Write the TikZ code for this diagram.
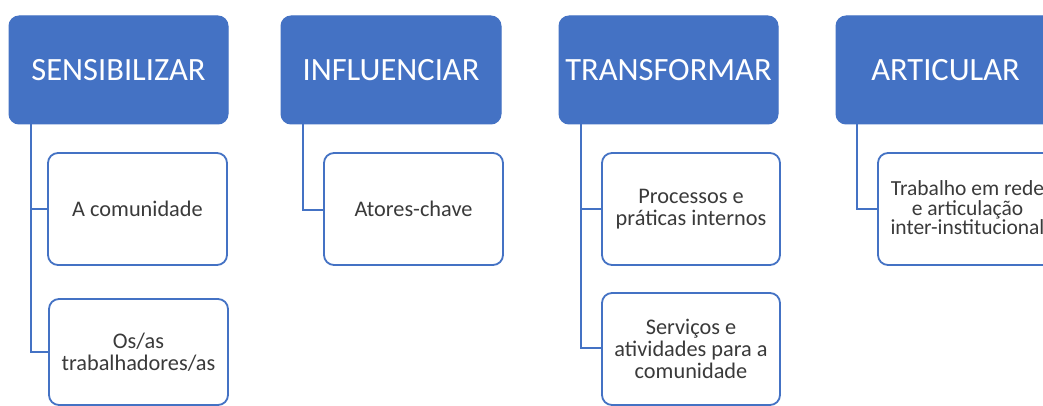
\documentclass[tikz,border=0pt]{standalone}
\usepackage{fontspec}
\setmainfont{Carlito}
\definecolor{ofblue}{HTML}{4472C4}
\definecolor{txtgray}{HTML}{3A3A3A}
\begin{document}
\begin{tikzpicture}[x=1pt,y=-1pt,
  parentbox/.style={fill=ofblue,draw=ofblue,rounded corners=10pt,line width=1pt},
  childbox/.style={fill=white,draw=ofblue,rounded corners=10pt,line width=1.8pt},
  ptext/.style={text=white,font=\fontsize{32.5}{34}\selectfont},
  ctext/.style={text=txtgray,font=\fontsize{22.3}{22}\selectfont,align=center},
  conn/.style={draw=ofblue,line width=1.8pt}]
\useasboundingbox (0,0) rectangle (1043,406);
\clip (0,0) rectangle (1043,406);
\fill[white] (0,0) rectangle (1043,406);
% parents
\draw[parentbox] (9,16) rectangle (228,124);
\node[ptext] (p1) at (118.5,70) {SENSIBILIZAR};
\draw[parentbox] (281,16) rectangle (501,124);
\node[ptext] (p2) at (391,70) {INFLUENCIAR};
\draw[parentbox] (559,16) rectangle (778,124);
\node[ptext] (p3) at (668.5,70) {TRANSFORMAR};
\draw[parentbox] (836,16) rectangle (1055,124);
\node[ptext] (p4) at (945.5,70) {ARTICULAR};
% connectors
\draw[conn] (31,124) |- (48,352);
\draw[conn] (31,209) -- (48,209);
\draw[conn] (303,124) |- (324,210);
\draw[conn] (581,124) |- (602,348);
\draw[conn] (581,209) -- (602,209);
\draw[conn] (857,124) |- (878,209);
% children
\draw[childbox] (48,153) rectangle (227,265);
\node[ctext] (c1a) at (137.5,209) {A comunidade};
\draw[childbox] (49,299) rectangle (228,405);
\node[ctext] (c1b) at (138.5,352) {Os/as\\trabalhadores/as};
\draw[childbox] (324,153) rectangle (503,265);
\node[ctext] (c2) at (413.5,209) {Atores-chave};
\draw[childbox] (602,153) rectangle (780,265);
\node[ctext] (c3a) at (691,209) {Processos e\\práticas internos};
\draw[childbox] (602,293) rectangle (780,405);
\node[ctext] (c3b) at (691,349) {Serviços e\\atividades para a\\comunidade};
\draw[childbox] (878,153) rectangle (1057,265);
\node[ctext,font=\fontsize{21.5}{19.5}\selectfont] (c4) at (967.5,208) {Trabalho em rede\\e articulação\\inter-institucional};
\end{tikzpicture}
\end{document}
